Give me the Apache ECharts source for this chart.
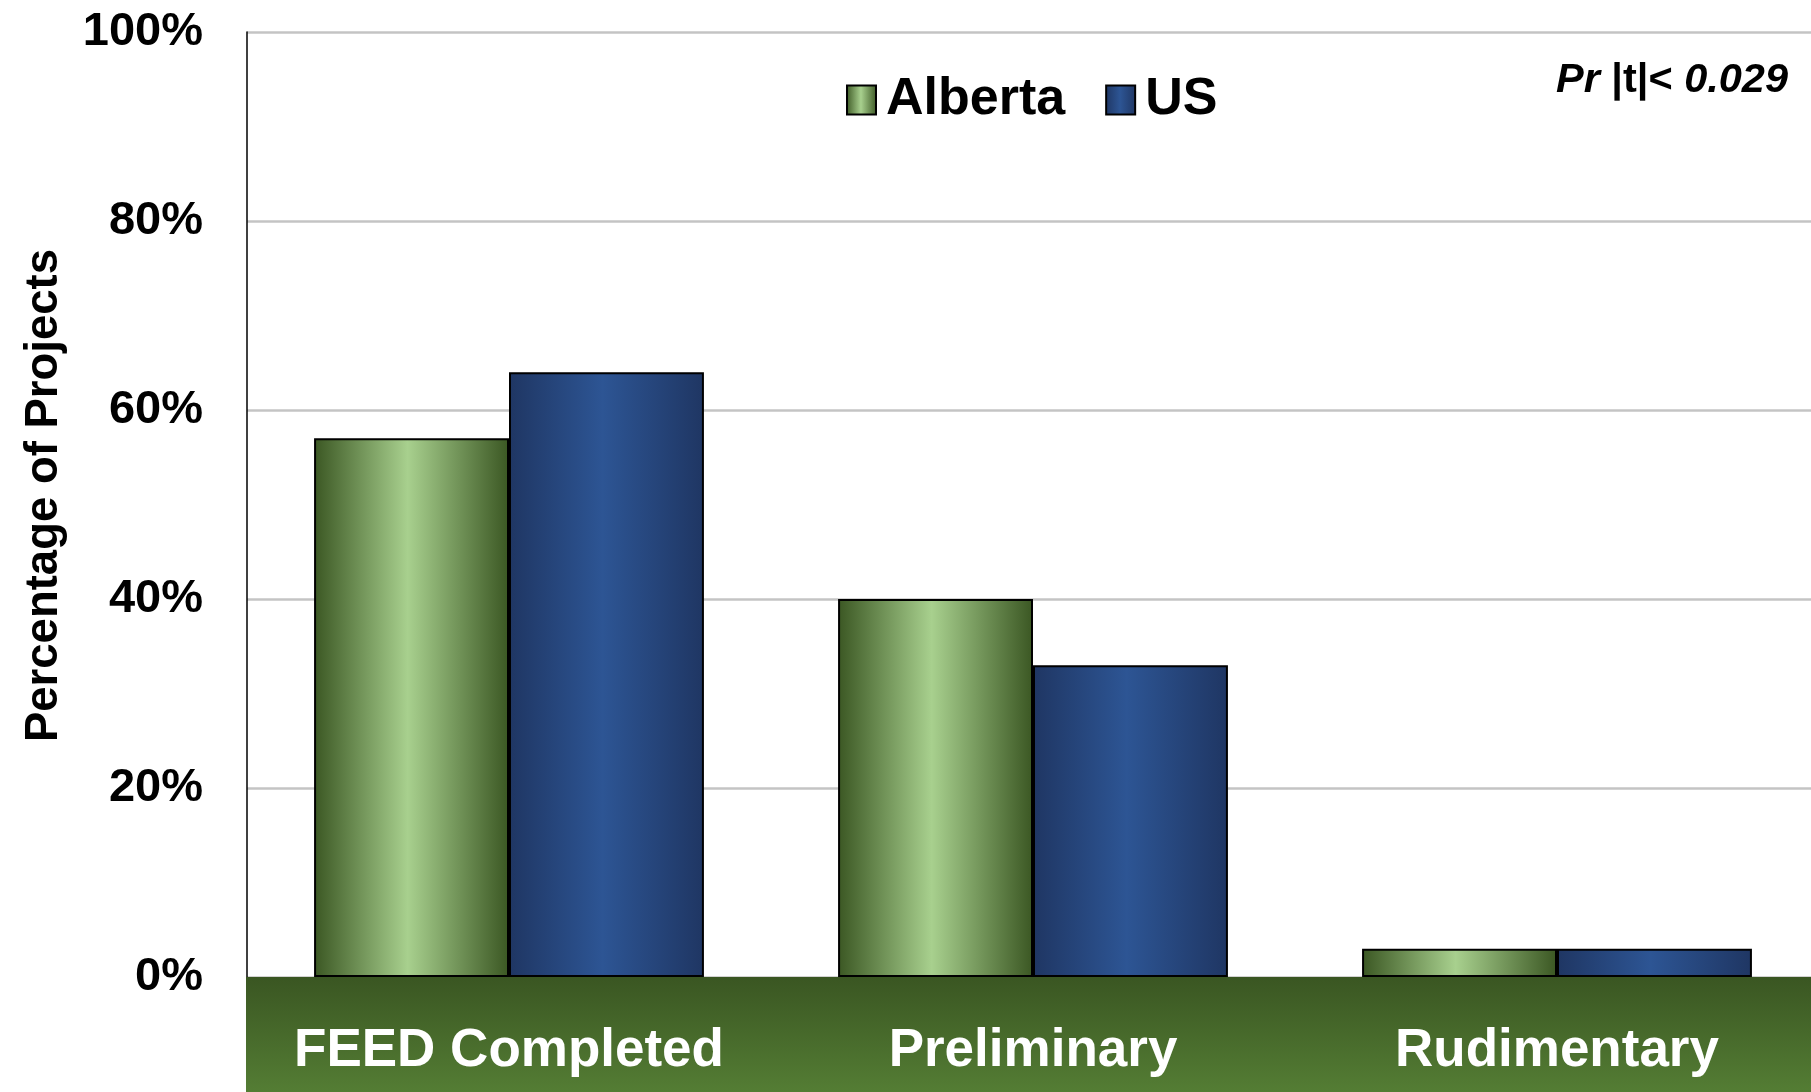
<!DOCTYPE html>
<html>
<head>
<meta charset="utf-8">
<title>Percentage of Projects by FEED Level</title>
<script src="https://cdn.jsdelivr.net/npm/echarts@6/dist/echarts.min.js"></script>
<style>
  html, body { margin: 0; padding: 0; background: #ffffff; }
  #chart { width: 1811px; height: 1092px; }
</style>
</head>
<body>
<div id="chart"></div>
<script>
// Project definition level at sanction, share of projects per region
const categories = ['FEED Completed', 'Preliminary', 'Rudimentary'];
const albertaValues = [57, 40, 3];
const usValues = [64, 33, 3];
const yTicks = [0, 20, 40, 60, 80, 100];

const FONT = 'Arial, "Liberation Sans", sans-serif';

function hGradient(edge, center) {
  return new echarts.graphic.LinearGradient(0, 0, 1, 0, [
    { offset: 0, color: edge },
    { offset: 0.48, color: center },
    { offset: 1, color: edge }
  ]);
}
const greenFill = hGradient('#3b5723', '#a8d08e');
const blueFill = hGradient('#1f3663', '#2d5594');

const chart = echarts.init(document.getElementById('chart'), null, { renderer: 'canvas' });

// The plot runs a little past the right edge of the canvas
chart.setOption({
  backgroundColor: '#ffffff',
  animation: false,
  grid: { left: 247, right: -8, top: 32, bottom: 115, containLabel: false, outerBoundsMode: 'none' },
  legend: {
    left: 841,
    top: 69,
    itemWidth: 29,
    itemHeight: 29,
    itemGap: 40,
    icon: 'rect',
    textStyle: { fontFamily: FONT, fontWeight: 'bold', fontSize: 52, color: '#000', padding: [0, 0, 0, 5] },
    data: ['Alberta', 'US']
  },
  xAxis: {
    type: 'category',
    data: categories,
    z: 10,
    axisLine: { show: false },
    axisTick: { show: false },
    axisLabel: {
      interval: 0,
      color: '#ffffff',
      fontFamily: FONT,
      fontWeight: 'bold',
      fontSize: 53,
      margin: 74,
      verticalAlign: 'middle'
    }
  },
  yAxis: {
    type: 'value',
    min: yTicks[0],
    max: yTicks[yTicks.length - 1],
    interval: yTicks[1] - yTicks[0],
    name: 'Percentage of Projects',
    nameLocation: 'middle',
    nameGap: 180,
    nameRotate: 90,
    nameTextStyle: { fontFamily: FONT, fontWeight: 'bold', fontSize: 45.5, color: '#000', padding: [0, 0, 0, 18] },
    axisLine: { show: true, lineStyle: { color: '#000', width: 1.5 } },
    axisTick: { show: false },
    axisLabel: {
      formatter: '{value}%',
      fontFamily: FONT,
      fontWeight: 'bold',
      fontSize: 47,
      color: '#000',
      margin: 44
    },
    splitLine: { show: true, lineStyle: { color: '#c4c4c4', width: 2.5 } }
  },
  series: [
    {
      name: 'Alberta',
      type: 'bar',
      data: albertaValues,
      barGap: '0%',
      barCategoryGap: '25.6%',
      itemStyle: { color: greenFill, borderColor: '#000', borderWidth: 2 }
    },
    {
      name: 'US',
      type: 'bar',
      data: usValues,
      itemStyle: { color: blueFill, borderColor: '#000', borderWidth: 2 }
    }
  ]
});

// Green footer band under the plot, aligned to the value axis zero line
const zeroY = chart.convertToPixel({ yAxisIndex: 0 }, 0);
const gridRect = chart.getModel().getComponent('grid', 0).coordinateSystem.getRect();
chart.setOption({
  graphic: [
    {
      type: 'rect',
      z: 3,
      shape: { x: gridRect.x - 1, y: zeroY, width: 1811 - gridRect.x + 1, height: 1092 - zeroY },
      style: {
        fill: new echarts.graphic.LinearGradient(0, 0, 0, 1, [
          { offset: 0, color: '#3a5622' },
          { offset: 1, color: '#547d34' }
        ])
      }
    },
    {
      type: 'text',
      z: 10,
      right: 23,
      top: 60,
      style: {
        text: '{i|Pr }{n||t|< }{i|0.029}',
        rich: {
          i: { fontFamily: FONT, fontWeight: 'bold', fontStyle: 'italic', fontSize: 41.5, fill: '#000' },
          n: { fontFamily: FONT, fontWeight: 'bold', fontSize: 41.5, fill: '#000' }
        }
      }
    }
  ]
});
</script>
</body>
</html>
